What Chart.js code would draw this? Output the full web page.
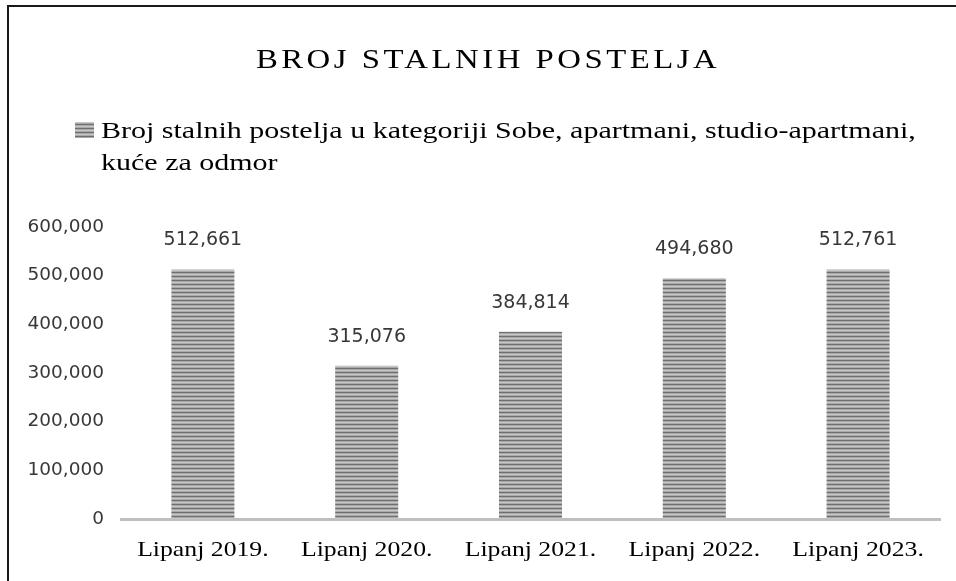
<!DOCTYPE html>
<html>
<head>
<meta charset="utf-8">
<script src="https://cdn.jsdelivr.net/npm/chart.js@4.4.0/dist/chart.umd.min.js"></script>
<style>
    html, body { margin: 0; padding: 0; background: #fff; overflow: hidden; }
    #frame {
        position: absolute; left: 7px; top: 5px; width: 1000px; height: 700px;
        border-top: 2px solid #1a1a1a; border-left: 2px solid #1a1a1a;
    }
    #predictChart { position: absolute; left: 0; top: 0; }
</style>
</head>
<body>
<div id="frame"></div>
<canvas id="predictChart" width="956" height="581"></canvas>
<script>
// Chart data
const categories = ['Lipanj 2019.', 'Lipanj 2020.', 'Lipanj 2021.', 'Lipanj 2022.', 'Lipanj 2023.'];
const bedValues = [512661, 315076, 384814, 494680, 512761];
const seriesLabel = 'Broj stalnih postelja u kategoriji Sobe, apartmani, studio-apartmani, kuće za odmor';
const chartTitle = 'BROJ STALNIH POSTELJA';
const yMax = 600000;
const yStep = 100000;

const serif = "'Liberation Serif', 'Times New Roman', serif";
const sans = "'DejaVu Sans', sans-serif";

// Horizontal striped fill like the original
function makeStripes() {
    const c = document.createElement('canvas');
    c.width = 8;
    c.height = 4;
    const p = c.getContext('2d');
    const rows = ['#6f6f6f', '#a9a9a9', '#c6c6c6', '#a9a9a9'];
    rows.forEach((col, i) => {
        p.fillStyle = col;
        p.fillRect(0, i, 8, 1);
    });
    return p.createPattern(c, 'repeat');
}

// The serif text in the original is rendered a bit wide, so stretch it
function wideText(c, text, x, y, stretch, align) {
    c.save();
    c.translate(x, y);
    c.scale(stretch, 1);
    c.textAlign = align;
    c.fillText(text, 0, 0);
    c.restore();
}

const ctx = document.getElementById('predictChart').getContext('2d');
const stripes = makeStripes();

const config = {
    type: 'bar',
    data: {
        labels: categories,
        datasets: [
            {
                label: seriesLabel,
                data: bedValues,
                backgroundColor: stripes,
                borderWidth: 0,
                categoryPercentage: 1,
                barPercentage: 0.385
            }
        ]
    },
    options: {
        responsive: false,
        animation: false,
        layout: {
            padding: { top: 227, right: 16, bottom: 62, left: 0 }
        },
        plugins: {
            legend: { display: false },
            title: { display: false },
            tooltip: { enabled: false }
        },
        scales: {
            y: {
                min: 0,
                max: yMax,
                ticks: {
                    stepSize: yStep,
                    padding: 17,
                    color: '#383838',
                    font: { size: 18.5, family: sans },
                    callback: (v) => v.toLocaleString('en-US')
                },
                grid: { display: false, drawTicks: false },
                border: { display: false },
                afterFit: (scale) => { scale.width = 121; }
            },
            x: {
                ticks: { display: false },
                grid: { display: false, drawTicks: false },
                border: { display: true, color: '#bfbfbf', width: 3 }
            }
        }
    },
    plugins: [
        {
            id: 'headerAndLabels',
            afterDraw: (chart) => {
                const c = chart.ctx;
                c.save();
                c.textBaseline = 'alphabetic';

                // Title with spaced letters
                c.fillStyle = '#000';
                c.font = '28px ' + serif;
                c.letterSpacing = '3px';
                wideText(c, chartTitle, 488, 68, 1.17, 'center');
                c.letterSpacing = '0px';

                // Legend, wrapped over two lines
                c.font = '24px ' + serif;
                const stretch = 1.25;
                const words = seriesLabel.split(' ');
                const lines = [];
                let line = '';
                words.forEach((w) => {
                    const test = line ? line + ' ' + w : w;
                    if (c.measureText(test).width * stretch > 830 && line) {
                        lines.push(line);
                        line = w;
                    } else {
                        line = test;
                    }
                });
                lines.push(line);
                c.fillStyle = stripes;
                c.fillRect(75, 122, 19, 16);
                c.fillStyle = '#000';
                lines.forEach((l, i) => wideText(c, l, 101, 138 + i * 32, stretch, 'left'));

                // Category labels under the axis
                const xScale = chart.scales.x;
                c.font = '22px ' + serif;
                categories.forEach((cat, i) => {
                    wideText(c, cat, xScale.getPixelForTick(i), 556, 1.17, 'center');
                });

                // Value labels above bars
                c.textAlign = 'center';
                c.textBaseline = 'middle';
                c.font = '19px ' + sans;
                c.fillStyle = '#383838';
                const meta = chart.getDatasetMeta(0);
                meta.data.forEach((bar, i) => {
                    c.fillText(bedValues[i].toLocaleString('en-US'), bar.x, bar.y - 29);
                });
                c.restore();
            }
        }
    ]
};

const chart = new Chart(ctx, config);
</script>
</body>
</html>
